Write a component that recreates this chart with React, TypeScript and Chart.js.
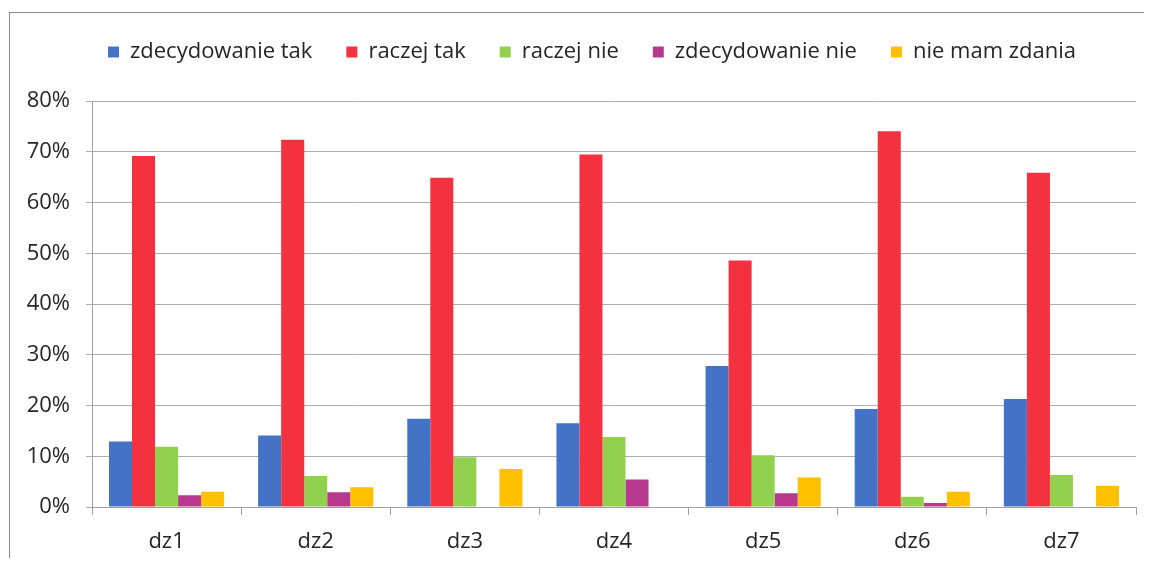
import React, { useEffect, useRef } from 'react';
import { Chart, registerables } from 'chart.js';

Chart.register(...registerables);

const categories = ['dz1', 'dz2', 'dz3', 'dz4', 'dz5', 'dz6', 'dz7'];
const seriesNames = ['zdecydowanie tak', 'raczej tak', 'raczej nie', 'zdecydowanie nie', 'nie mam zdania'];
const zdecydowanieTak = [12.9, 14.1, 17.4, 16.5, 27.8, 19.3, 21.3];
const raczejTak = [69.2, 72.4, 64.9, 69.5, 48.6, 74.1, 65.9];
const raczejNie = [11.9, 6.1, 9.8, 13.8, 10.2, 2.0, 6.3];
const zdecydowanieNie = [2.3, 2.9, 0, 5.4, 2.7, 0.8, 0];
const nieMamZdania = [3.0, 3.9, 7.5, 0, 5.8, 3.0, 4.2];
const seriesColors = ['#4472C4', '#F4313F', '#92D050', '#B8388E', '#FFC000'];
const yMin = 0;
const yMax = 80;
const yStep = 10;

const FONT = "'Open Sans', sans-serif";

const legendShift = {
  id: 'legendShift',
  afterLayout(chart: any) {
    const lg = chart.legend;
    if (lg) {
      lg.left += 20;
      lg.right += 20;
    }
  },
};

export default function App() {
  const ref = useRef<HTMLCanvasElement | null>(null);

  useEffect(() => {
    if (!ref.current) return;
    const values = [zdecydowanieTak, raczejTak, raczejNie, zdecydowanieNie, nieMamZdania];
    const chart = new Chart(ref.current, {
      type: 'bar',
      data: {
        labels: categories,
        datasets: seriesNames.map((name, i) => ({
          label: name,
          data: values[i],
          backgroundColor: seriesColors[i],
          borderWidth: 0,
          categoryPercentage: 0.772,
          barPercentage: 1,
        })),
      },
      plugins: [legendShift],
      options: {
        animation: false,
        responsive: false,
        devicePixelRatio: 1,
        layout: { padding: { left: 0, right: 16, top: -1, bottom: 0 } },
        plugins: {
          tooltip: { enabled: false },
          legend: {
            position: 'top',
            align: 'center',
            weight: 1000,
            labels: {
              font: { family: FONT, size: 22 },
              color: '#262626',
              boxWidth: 11,
              boxHeight: 11,
              padding: 34,
            },
          },
          title: {
            display: true,
            text: '',
            position: 'top',
            weight: 500,
            font: { size: 1 },
            padding: { top: 0, bottom: 27 },
          },
        },
        scales: {
          x: {
            afterFit: (s: any) => { s.height = 51; },
            grid: {
              offset: true,
              drawOnChartArea: false,
              drawTicks: true,
              tickLength: 8,
              color: '#a0a0a0',
            },
            border: { color: '#a0a0a0' },
            ticks: {
              font: { family: FONT, size: 22 },
              color: '#262626',
              padding: 14,
            },
          },
          y: {
            min: yMin,
            max: yMax,
            afterFit: (s: any) => { s.width = 84; },
            grid: {
              color: '#adadad',
              tickLength: 6,
              drawTicks: true,
            },
            border: { color: '#a0a0a0' },
            ticks: {
              stepSize: yStep,
              font: { family: FONT, size: 22 },
              color: '#262626',
              padding: 16,
              callback: (v: any) => `${v}%`,
            },
          },
        },
      },
    });
    return () => chart.destroy();
  }, []);

  return (
    <div style={{ position: 'relative', width: 1144, height: 550, overflow: 'hidden' }}>
      <div
        style={{
          position: 'absolute',
          left: 1,
          top: 4,
          right: -10,
          bottom: -10,
          borderTop: '1px solid #8a8a8a',
          borderLeft: '1px solid #8a8a8a',
        }}
      />
      <canvas
        ref={ref}
        width={1144}
        height={550}
        style={{ position: 'absolute', left: 0, top: 0, width: 1144, height: 550 }}
      />
    </div>
  );
}
